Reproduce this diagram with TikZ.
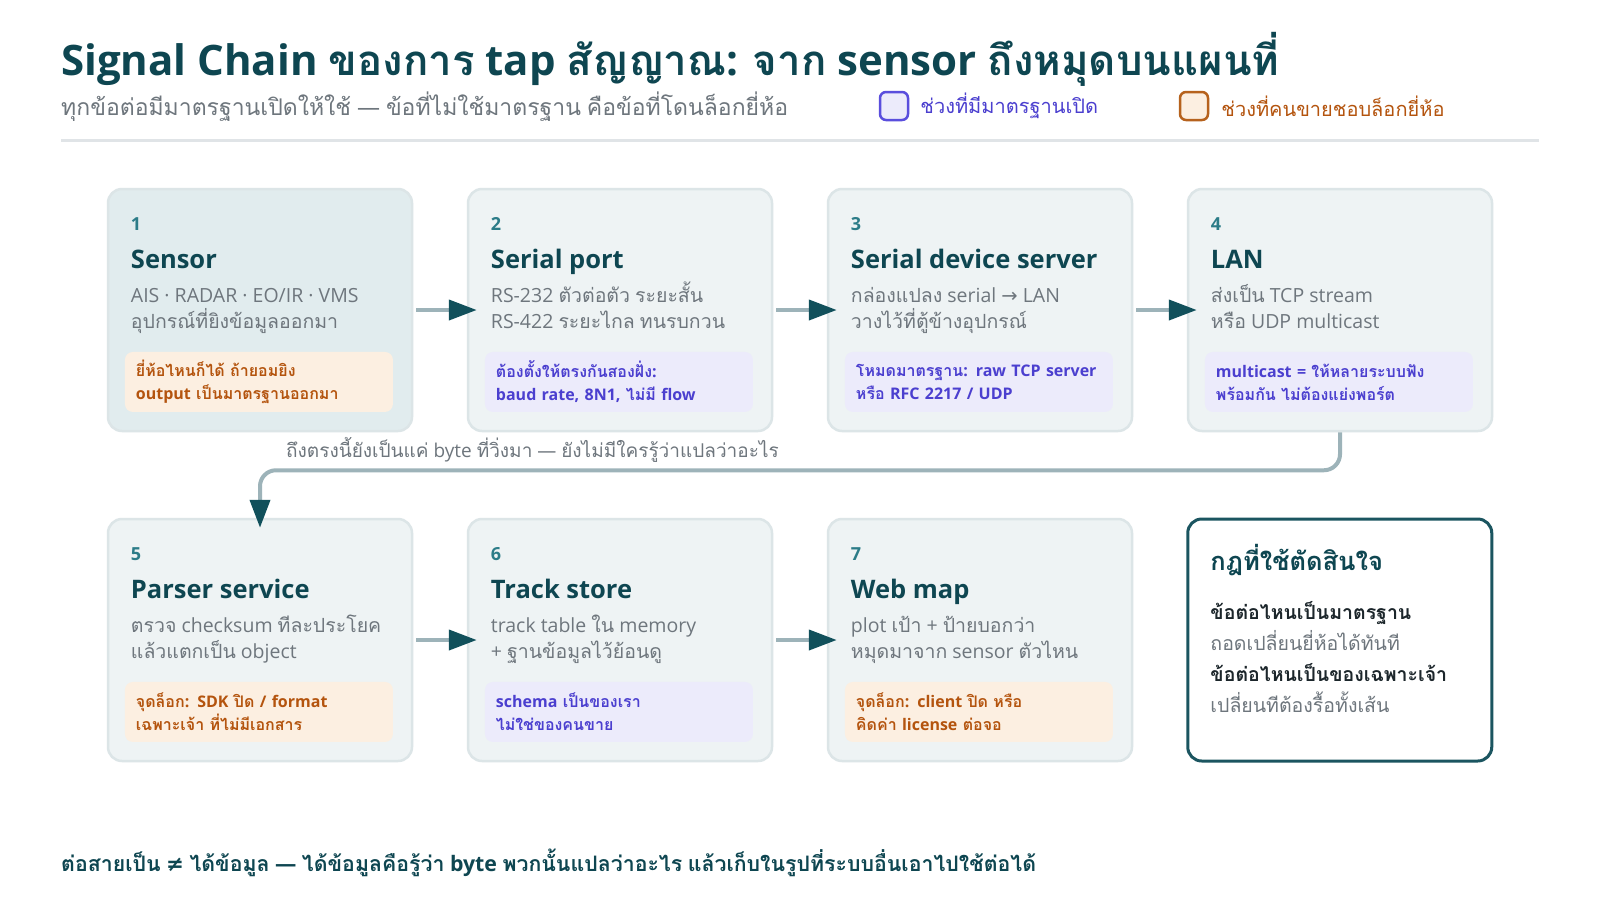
\documentclass[tikz,border=0pt]{standalone}
\usepackage{fontspec}
\usetikzlibrary{positioning,arrows.meta}
\setmainfont{Open Sans}
\newfontfamily\thaifont[Script=Thai]{Loma}
\newfontfamily\symfont{DejaVu Sans}
\XeTeXinterchartokenstate=1
\newXeTeXintercharclass\thaiclass
\count255="0E00
\loop
  \XeTeXcharclass\count255=\thaiclass
  \ifnum\count255<"0E7F \advance\count255 by 1 \repeat
\XeTeXinterchartoks 0 \thaiclass = {\thaifont}
\XeTeXinterchartoks 4095 \thaiclass = {\thaifont}
\XeTeXinterchartoks \thaiclass 0 = {\rmfamily}
\XeTeXinterchartoks \thaiclass 4095 = {\rmfamily}

\definecolor{ink}{HTML}{0E4651}
\definecolor{tealnum}{HTML}{2C7C88}
\definecolor{muted}{HTML}{6E767D}
\definecolor{cardfill}{HTML}{EEF3F4}
\definecolor{cardfirst}{HTML}{E1ECEE}
\definecolor{cardline}{HTML}{DCE5E7}
\definecolor{openfill}{HTML}{ECEBFB}
\definecolor{openink}{HTML}{4B3FCF}
\definecolor{openline}{HTML}{5A4EDD}
\definecolor{lockfill}{HTML}{FCEFE1}
\definecolor{lockink}{HTML}{B4540E}
\definecolor{lockline}{HTML}{B6621D}
\definecolor{linkgray}{HTML}{9DB3B9}
\definecolor{headteal}{HTML}{11505B}
\definecolor{rulegray}{HTML}{E0E4E7}
\definecolor{rulesline}{HTML}{1B5560}
\definecolor{blackish}{HTML}{1C262B}

\begin{document}
\begin{tikzpicture}[x=1pt, y=-1pt,
  card/.style={draw=cardline, line width=2.5pt, rounded corners=14pt, fill=cardfill,
               minimum width=304pt, minimum height=242pt, inner sep=0pt},
  num/.style={anchor=base west, inner sep=0pt, text=tealnum, font=\bfseries\fontsize{18}{18}\selectfont},
  ttl/.style={anchor=base west, inner sep=0pt, text=ink, font=\bfseries\fontsize{25.5}{26}\selectfont},
  dsc/.style={anchor=base west, inner sep=0pt, align=left, text=muted, font=\fontsize{19.5}{26}\selectfont},
  chip/.style={anchor=north west, rounded corners=8pt, minimum height=60pt, text width=246pt,
               inner xsep=11pt, inner ysep=0pt, align=left, font=\bfseries\fontsize{16}{23}\selectfont},
  openchip/.style={chip, fill=openfill, text=openink},
  lockchip/.style={chip, fill=lockfill, text=lockink},
  legsq/.style={rounded corners=6pt, line width=2.5pt, minimum size=28pt, inner sep=0pt},
  legtxt/.style={inner sep=0pt, font=\fontsize{20}{24}\selectfont},
  flow/.style={line width=4pt, draw=linkgray, shorten <=3pt, shorten >=-10pt,
               -{Triangle[length=28pt, width=20pt, color=headteal]}},
  note/.style={anchor=base west, inner sep=0pt, text=muted, font=\fontsize{19}{24}\selectfont}
]
\useasboundingbox[fill=white] (0,0) rectangle (1600,900);

\node[anchor=base west, inner sep=0pt, text=ink, font=\bfseries\fontsize{42}{48}\selectfont] (title) at (61,75)
  {Signal Chain ของการ tap สัญญาณ: จาก sensor ถึงหมุดบนแผนที่};
\node[anchor=base west, inner sep=0pt, text=muted, font=\fontsize{23}{28}\selectfont] (subtitle) at (61,115)
  {ทุกข้อต่อมีมาตรฐานเปิดให้ใช้ — ข้อที่ไม่ใช้มาตรฐาน คือข้อที่โดนล็อกยี่ห้อ};
\node[legsq, fill=openfill, draw=openline] (legopen) at (894,106) {};
\node[legtxt, text=openink, right=11pt of legopen] (legopentxt) {ช่วงที่มีมาตรฐานเปิด};
\node[legsq, fill=lockfill, draw=lockline] (leglock) at (1194,106) {};
\node[legtxt, text=lockink, right=12pt of leglock] (leglocktxt) {ช่วงที่คนขายชอบล็อกยี่ห้อ};
\draw[rulegray, line width=3pt] (61,140) -- (1539,140);

\node[card, fill=cardfirst] (s1) at (260,310) {};
\node[card, right=53.5pt of s1] (s2) {};
\node[card, right=53.5pt of s2] (s3) {};
\node[card, right=53.5pt of s3] (s4) {};
\node[card, below=85.5pt of s1] (s5) {};
\node[card, right=53.5pt of s5] (s6) {};
\node[card, right=53.5pt of s6] (s7) {};
\node[card, draw=rulesline, line width=3pt, fill=white, right=53pt of s7] (rules) {};

\foreach \s/\n/\t/\d/\k/\g in {
  s1/1/Sensor/{AIS · RADAR · EO/IR · VMS\\อุปกรณ์ที่ยิงข้อมูลออกมา}/lockchip/{ยี่ห้อไหนก็ได้ ถ้ายอมยิง\\output เป็นมาตรฐานออกมา},
  s2/2/Serial port/{RS-232 ตัวต่อตัว ระยะสั้น\\RS-422 ระยะไกล ทนรบกวน}/openchip/{ต้องตั้งให้ตรงกันสองฝั่ง:\\baud rate, 8N1, ไม่มี flow},
  s3/3/Serial device server/{กล่องแปลง serial {\symfont →} LAN\\วางไว้ที่ตู้ข้างอุปกรณ์}/openchip/{โหมดมาตรฐาน: raw TCP server\\หรือ RFC 2217 / UDP},
  s4/4/LAN/{ส่งเป็น TCP stream\\หรือ UDP multicast}/openchip/{multicast = ให้หลายระบบฟัง\\พร้อมกัน ไม่ต้องแย่งพอร์ต},
  s5/5/Parser service/{ตรวจ checksum ทีละประโยค\\แล้วแตกเป็น object}/lockchip/{จุดล็อก: SDK ปิด / format\\เฉพาะเจ้า ที่ไม่มีเอกสาร},
  s6/6/Track store/{track table ใน memory\\+ ฐานข้อมูลไว้ย้อนดู}/openchip/{schema เป็นของเรา\\ไม่ใช่ของคนขาย},
  s7/7/Web map/{plot เป้า + ป้ายบอกว่า\\หมุดมาจาก sensor ตัวไหน}/lockchip/{จุดล็อก: client ปิด หรือ\\คิดค่า license ต่อจอ}}
{
  \node[num] (\s-num) at ([shift={(24,43)}]\s.north west) {\n};
  \node[ttl] (\s-ttl) at ([shift={(24,81)}]\s.north west) {\t};
  \node[dsc] (\s-dsc) at ([shift={(24,141)}]\s.north west) {\d};
  \node[\k] (\s-chip) at ([shift={(18,164)}]\s.north west) {\g};
}

\node[ttl] (rules-ttl) at ([shift={(24,53)}]rules.north west) {กฎที่ใช้ตัดสินใจ};
\node[dsc, font=\fontsize{19.5}{31}\selectfont] (rules-txt) at ([shift={(24,195)}]rules.north west)
  {\textcolor{blackish}{\bfseries ข้อต่อไหนเป็นมาตรฐาน}\\ถอดเปลี่ยนยี่ห้อได้ทันที\\
   \textcolor{blackish}{\bfseries ข้อต่อไหนเป็นของเฉพาะเจ้า}\\เปลี่ยนทีต้องรื้อทั้งเส้น};

\draw[flow] (s1) -- (s2);
\draw[flow] (s2) -- (s3);
\draw[flow] (s3) -- (s4);
\draw[flow] (s5) -- (s6);
\draw[flow] (s6) -- (s7);
\draw[flow, shorten <=0pt, rounded corners=16pt] (s4.south) -- ++(0,38) -| (s5.north);
\node[note] (bytes) at (286,457) {ถึงตรงนี้ยังเป็นแค่ byte ที่วิ่งมา — ยังไม่มีใครรู้ว่าแปลว่าอะไร};

\node[anchor=base west, inner sep=0pt, text=ink, font=\bfseries\fontsize{21.3}{26}\selectfont] (takeaway) at (61,871)
  {ต่อสายเป็น {\symfont ≠} ได้ข้อมูล — ได้ข้อมูลคือรู้ว่า byte พวกนั้นแปลว่าอะไร แล้วเก็บในรูปที่ระบบอื่นเอาไปใช้ต่อได้};
\end{tikzpicture}
\end{document}
